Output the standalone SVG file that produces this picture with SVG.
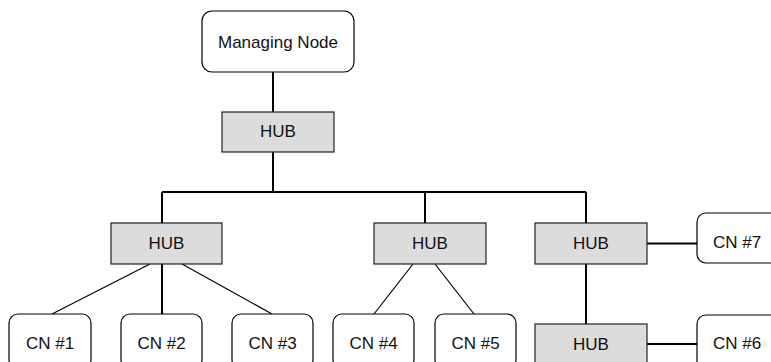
<svg xmlns="http://www.w3.org/2000/svg" width="771" height="362" viewBox="0 0 771 362">
<style>
.cn{fill:#fff;stroke:#000;stroke-width:1.2}
.hub{fill:#dcdcdc;stroke:#222;stroke-width:1.2}
.t{font-family:"Liberation Sans",Arial,sans-serif;font-size:17px;fill:#111;text-anchor:middle}
.w{stroke:#000;stroke-width:2;fill:none}
.d{stroke:#000;stroke-width:1.2;fill:none}
</style>
<rect width="771" height="362" fill="#fff"/>
<g id="connectors">
<path class="w" d="M273 72V112M273 152V192M162 192H586M162 192V223M425 192V223M586 192V223M586 264V324M647 243.5H697M647 344H697M162 264V314"/>
<path class="d" d="M150 264L52 314M182 264L272 314M413 264L374 314M435 264L474 314"/>
</g>
<g id="managing"><rect class="cn" x="202" y="11" width="152" height="61" rx="10"/><text class="t" x="278" y="48">Managing Node</text></g>
<g id="hub0"><rect class="hub" x="222" y="112" width="112" height="40"/><text class="t" x="278" y="137">HUB</text></g>
<g id="hub1"><rect class="hub" x="111" y="223" width="111" height="41"/><text class="t" x="166.5" y="249">HUB</text></g>
<g id="hub2"><rect class="hub" x="374" y="223" width="112" height="41"/><text class="t" x="430" y="249">HUB</text></g>
<g id="hub3"><rect class="hub" x="535" y="223" width="112" height="41"/><text class="t" x="591" y="249">HUB</text></g>
<g id="hub4"><rect class="hub" x="535" y="324" width="112" height="45"/><text class="t" x="591" y="350">HUB</text></g>
<g id="cn7"><rect class="cn" x="697" y="213" width="90" height="50" rx="9"/><text class="t" x="737" y="248">CN #7</text></g>
<g id="cn6"><rect class="cn" x="697" y="315" width="90" height="55" rx="9"/><text class="t" x="737" y="349">CN #6</text></g>
<g id="cn1"><rect class="cn" x="9" y="314" width="82" height="55" rx="9"/><text class="t" x="50" y="349">CN #1</text></g>
<g id="cn2"><rect class="cn" x="121" y="314" width="81" height="55" rx="9"/><text class="t" x="161.5" y="349">CN #2</text></g>
<g id="cn3"><rect class="cn" x="232" y="314" width="81" height="55" rx="9"/><text class="t" x="272.5" y="349">CN #3</text></g>
<g id="cn4"><rect class="cn" x="333" y="314" width="81" height="55" rx="9"/><text class="t" x="373.5" y="349">CN #4</text></g>
<g id="cn5"><rect class="cn" x="435" y="314" width="81" height="55" rx="9"/><text class="t" x="475.5" y="349">CN #5</text></g>
</svg>
